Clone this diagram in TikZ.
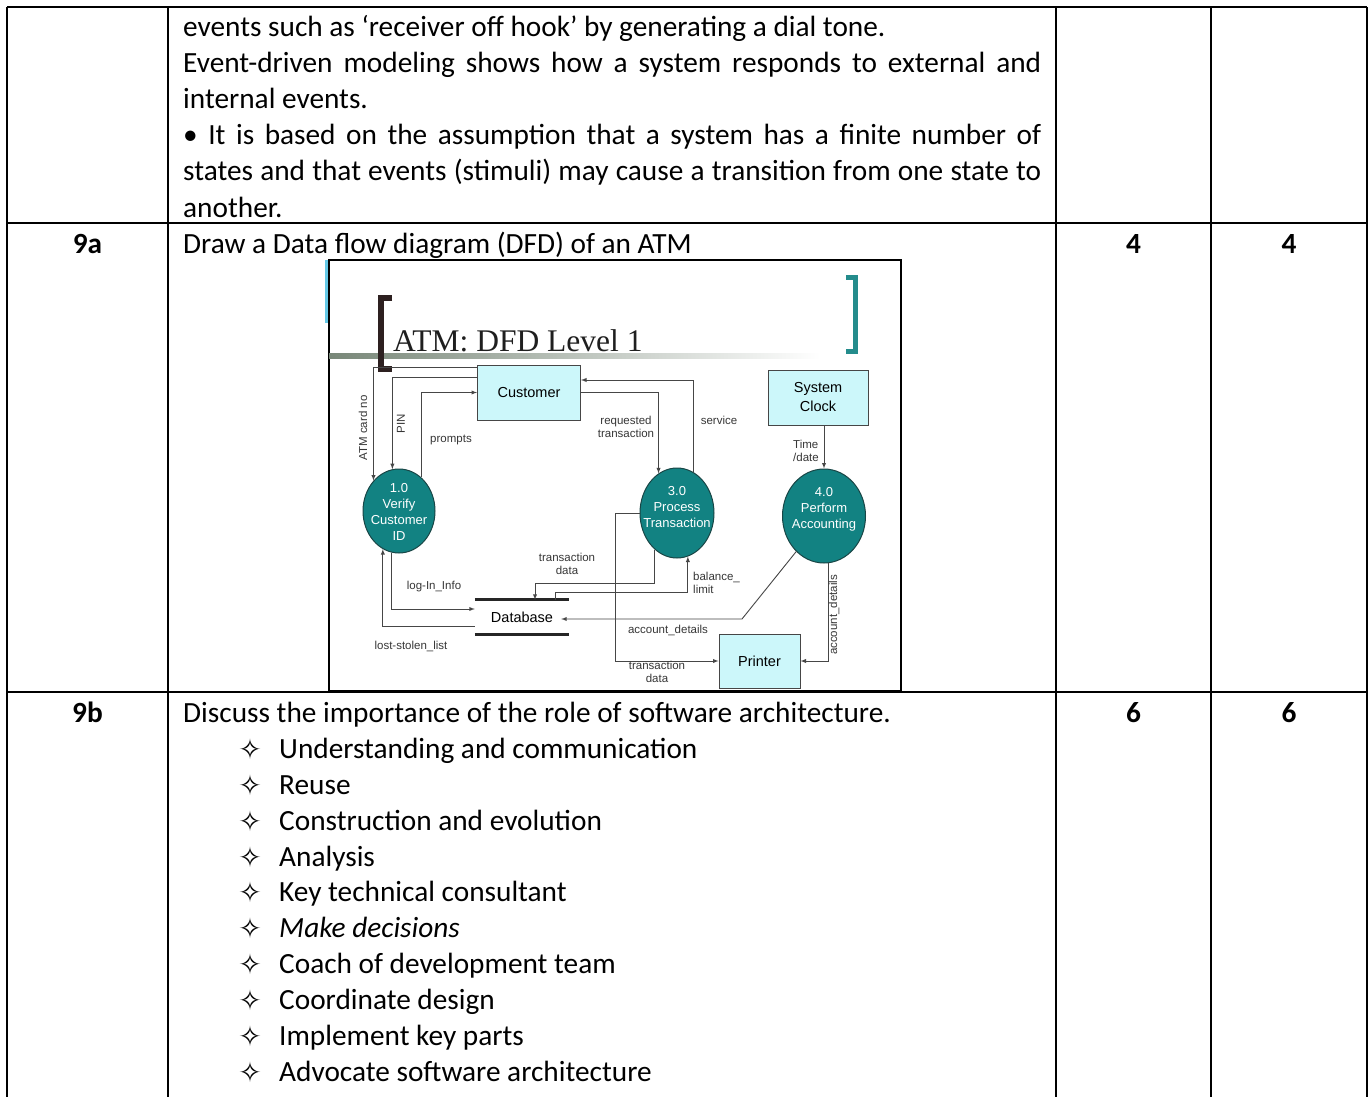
\documentclass[tikz,border=0pt]{standalone}
\usepackage{fontspec}
\setmainfont{Carlito}
\newfontfamily\dfdfont{Liberation Sans}
\newfontfamily\slidefont{Liberation Serif}
\newfontfamily\symfont{DejaVu Sans}
\usepackage{tikz}
\usetikzlibrary{arrows,shapes.geometric}

\definecolor{entityfill}{RGB}{204,247,250}
\definecolor{procfill}{RGB}{18,130,130}
\definecolor{procline}{RGB}{25,70,70}
\definecolor{flowline}{RGB}{70,70,70}
\definecolor{labelgray}{RGB}{55,55,55}
\definecolor{brackdark}{RGB}{45,32,32}
\definecolor{brackteal}{RGB}{36,140,140}
\definecolor{rulegreen}{RGB}{120,135,120}
\definecolor{stripblue}{RGB}{100,200,230}

\newcommand{\jline}[1]{\makebox[858pt][s]{#1}}

\tikzset{
  rule/.style={line width=1.4pt},
  body/.style={anchor=base west, inner sep=0pt, font=\fontsize{29.3}{36}\selectfont},
  num/.style={anchor=base, inner sep=0pt, font=\fontsize{29.3}{36}\selectfont\bfseries},
  bullet/.style={inner sep=0pt, font=\symfont\fontsize{28}{28}\selectfont},
  entity/.style={draw=flowline, fill=entityfill, line width=1pt, inner sep=0pt, align=center, font=\dfdfont\fontsize{14.5}{19}\selectfont},
  process/.style={ellipse, draw=procline, fill=procfill, line width=1pt, inner sep=0pt},
  proctext/.style={inner sep=0pt, align=center, text=white, font=\dfdfont\fontsize{13}{16}\selectfont},
  store/.style={inner sep=0pt, minimum width=94pt, minimum height=34pt, font=\dfdfont\fontsize{14.5}{19}\selectfont},
  dbline/.style={line width=3pt, black!85},
  flow/.style={draw=flowline, line width=0.9pt, -latex},
  lbl/.style={inner sep=0pt, align=center, text=labelgray, font=\dfdfont\fontsize{11.5}{13.5}\selectfont},
}

\begin{document}
\begin{tikzpicture}[x=1pt,y=-1pt]
		\useasboundingbox (0,0) rectangle (1371,1097);
		\clip (0,0) rectangle (1371,1097);
		\fill[white] (0,0) rectangle (1371,1097);
%		\draw[help lines] (0,0) grid (1371,1097);

		% table
		\draw[rule] (7,7) -- (1367,7);
		\draw[rule] (7,223) -- (1367,223);
		\draw[rule] (7,692) -- (1367,692);
		\draw[rule] (7,7) -- (7,1100);
		\draw[rule] (168,7) -- (168,1100);
		\draw[rule] (1056,7) -- (1056,1100);
		\draw[rule] (1211,7) -- (1211,1100);
		\draw[rule] (1367,7) -- (1367,1100);

		\node[body] (evA) at (183,37) {events such as ‘receiver off hook’ by generating a dial tone.};
		\node[body] (evB) at (183,73) {\jline{Event-driven modeling shows how a system responds to external and}};
		\node[body] (evC) at (183,109) {internal events.};
		\node[body] (evD) at (183,145) {\jline{• It is based on the assumption that a system has a finite number of}};
		\node[body] (evE) at (183,181) {\jline{states and that events (stimuli) may cause a transition from one state to}};
		\node[body] (evF) at (183,217) {another.};

		\node[num] (qa) at (87.5,253) {9a};
		\node[body] (qatext) at (183,253) {Draw a Data flow diagram (DFD) of an ATM};
		\node[num] (qamax) at (1133.5,253) {4};
		\node[num] (qagot) at (1289,253) {4};

		\node[num] (qb) at (87.5,722) {9b};
		\node[body] (qbtext) at (183,722) {Discuss the importance of the role of software architecture.};
		\node[num] (qbmax) at (1133.5,722) {6};
		\node[num] (qbgot) at (1289,722) {6};

		% list of roles
		\node[bullet] (s1) at (250,749) {✧};
		\node[body] (i1) at (279,758) {Understanding and communication};
		\node[bullet] (s2) at (250,785) {✧};
		\node[body] (i2) at (279,794) {Reuse};
		\node[bullet] (s3) at (250,821) {✧};
		\node[body] (i3) at (279,830) {Construction and evolution};
		\node[bullet] (s4) at (250,857) {✧};
		\node[body] (i4) at (279,866) {Analysis};
		\node[bullet] (s5) at (250,892) {✧};
		\node[body] (i5) at (279,901) {Key technical consultant};
		\node[bullet] (s6) at (250,928) {✧};
		\node[body] (i6) at (279,937) {\itshape Make decisions};
		\node[bullet] (s7) at (250,964) {✧};
		\node[body] (i7) at (279,973) {Coach of development team};
		\node[bullet] (s8) at (250,1000) {✧};
		\node[body] (i8) at (279,1009) {Coordinate design};
		\node[bullet] (s9) at (250,1036) {✧};
		\node[body] (i9) at (279,1045) {Implement key parts};
		\node[bullet] (s10) at (250,1072) {✧};
		\node[body] (i10) at (279,1081) {Advocate software architecture};

		% the DFD slide
		\fill[white] (329,260) rectangle (901,691);
		\fill[stripblue] (325,260) rectangle (329,323);
		\draw[line width=1.5pt] (329,260) rectangle (901,691);
		\shade[left color=rulegreen, right color=white] (329,353) rectangle (820,358);
		\node[anchor=base west, inner sep=0pt, text=black!88, font=\slidefont\fontsize{31.5}{36}\selectfont] (title) at (393,351) {ATM: DFD Level 1};
		\draw[line width=6pt, brackdark] (392,298) -- (381,298) -- (381,369) -- (392,369);
		\draw[line width=5pt, brackteal] (846,277) -- (855,277) -- (855,351) -- (846,351);

		\node[entity, minimum width=103pt, minimum height=55pt] (cust) at (529,392.5) {Customer};
		\node[entity, minimum width=100pt, minimum height=55pt] (clock) at (818,397.5) {System\\Clock};
		\node[entity, minimum width=81pt, minimum height=54pt] (printer) at (759.5,661) {Printer};

		\node[process, minimum width=72pt, minimum height=84pt] (verify) at (399,511) {};
		\node[proctext] (verifytext) at (399,512) {1.0\\Verify\\Customer\\ID};
		\node[process, minimum width=74pt, minimum height=90pt] (proc) at (677,513) {};
		\node[proctext] (proctext) at (677,507) {3.0\\Process\\Transaction};
		\node[process, minimum width=83pt, minimum height=94pt] (acct) at (824,516) {};
		\node[proctext] (accttext) at (824,509) {4.0\\Perform\\Accounting};

		\node[store] (db) at (522,617) {Database};
		\draw[dbline] (db.north west) -- (db.north east);
		\draw[dbline] (db.south west) -- (db.south east);

		\path (615,513) coordinate (tdbend);
		\path (535,583) coordinate (dbbend);
		\path (555,592) coordinate (blbend);
		\path (742,619) coordinate (adbend);

		\draw[flow] (cust.west |- 0,367) -| (verify.130);
		\draw[flow] (cust.west |- 0,377) -| (verify.99);
		\draw[flow] (verify.57) |- (cust.west);
		\draw[flow] (cust.east) -| (proc.115);
		\draw[flow] (proc.68) |- (cust.east |- 0,380);
		\draw[flow] (clock.south -| acct.north) -- (acct.north);
		\draw[flow] (verify.260) |- (db.west |- 0,609);
		\draw[flow] (db.west |- 0,626) -| (verify.247);
		\draw[flow] (proc.239) |- (dbbend) -- (dbbend |- db.north);
		\draw[flow] (blbend |- db.north) -- (blbend) -| (proc.284);
		\draw[flow] (proc.west) -- (tdbend) |- (printer.west);
		\draw[flow, shorten >=-8pt] (acct.232) -- (adbend) -- (db.east |- adbend);
		\draw[flow] (acct.275) |- (printer.east);

		\node[lbl, rotate=90] (atmlbl) at (363,428) {ATM card no};
		\node[lbl, rotate=90] (pinlbl) at (401,424) {PIN};
		\node[lbl] (promptlbl) at (451,440) {prompts};
		\node[lbl] (reqlbl) at (626,427) {requested\\transaction};
		\node[lbl] (servlbl) at (719,420) {service};
		\node[lbl, align=left] (timelbl) at (806,451) {Time\\/date};
		\node[lbl] (loglbl) at (434,587) {log-In\_Info};
		\node[lbl] (lostlbl) at (411,646) {lost-stolen\_list};
		\node[lbl] (tdlbl) at (567,564) {transaction\\data};
		\node[lbl, anchor=west, align=left] (ballbl) at (693,583) {balance\_\\limit};
		\node[lbl] (tplbl) at (657,672) {transaction\\data};
		\node[lbl] (adlbl) at (668,630) {account\_details};
		\node[lbl, rotate=90] (aplbl) at (834,615) {account\_details};
	\end{tikzpicture}
\end{document}
